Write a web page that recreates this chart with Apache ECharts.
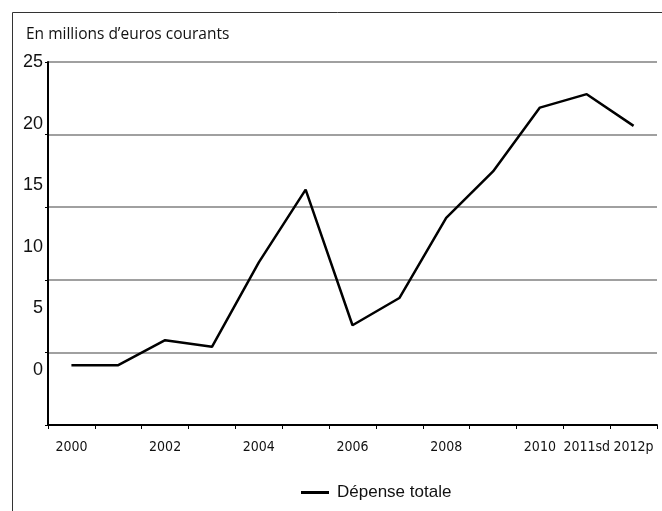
<!DOCTYPE html>
<html>
<head>
<meta charset="utf-8">
<script src="https://cdn.jsdelivr.net/npm/echarts@6/dist/echarts.min.js"></script>
<style>
html,body{margin:0;padding:0;background:#fff;}
#chart{width:662px;height:511px;}
</style>
</head>
<body>
<div id="chart"></div>
<script>
var categories = ['2000','2001','2002','2003','2004','2005','2006','2007','2008','2009','2010','2011sd','2012p'];
var shownLabelIndexes = [0,2,4,6,8,10,11,12];
var depenseTotale = [0.4, 0.4, 2.43, 1.89, 8.74, 14.64, 3.64, 5.85, 12.35, 16.12, 21.3, 22.39, 19.82];
var yTickLabels = [0, 5, 10, 15, 20, 25];
var gridLevels = {min: 0, max: 25, interval: 5};
var labelScale = {min: -4.45, max: 25};

var chart = echarts.init(document.getElementById('chart'), null, {renderer: 'canvas'});
chart.setOption({
  animation: false,
  backgroundColor: '#ffffff',
  graphic: [{
    type: 'rect',
    shape: {x: 12.5, y: 12.5, width: 700, height: 600},
    style: {fill: 'none', stroke: '#333333', lineWidth: 1},
    silent: true
  }],
  title: {
    text: 'En millions d\u2019euros courants',
    left: 21, top: 22,
    textStyle: {fontFamily: 'Open Sans', fontSize: 15.5, fontWeight: 'normal', color: '#111111'}
  },
  legend: {
    data: ['Dépense totale'],
    left: 296, top: 479,
    icon: 'rect', itemWidth: 28, itemHeight: 3, itemGap: 5,
    textStyle: {fontFamily: 'Liberation Sans', fontSize: 17, color: '#111111', padding: [0,0,0,3]}
  },
  grid: {left: 48, right: 5, top: 62, bottom: 86, outerBoundsMode: 'none'},
  xAxis: [{
    type: 'category',
    data: categories,
    boundaryGap: true,
    axisLine: {lineStyle: {color: '#000000', width: 2}},
    axisTick: {show: true, length: 4, alignWithLabel: false, interval: 0, lineStyle: {color: '#000000', width: 1}},
    axisLabel: {
      interval: function (index) { return shownLabelIndexes.indexOf(index) >= 0; },
      fontFamily: "'DejaVu Sans Condensed', 'Liberation Sans', sans-serif", fontSize: 14, color: '#111111', margin: 15
    },
    splitLine: {show: false}
  }],
  yAxis: [{
    type: 'value',
    min: gridLevels.min, max: gridLevels.max, interval: gridLevels.interval,
    position: 'left',
    axisLine: {show: true, lineStyle: {color: '#000000', width: 2}},
    axisTick: {show: true, length: 3, lineStyle: {color: '#000000', width: 1}},
    axisLabel: {show: false},
    splitLine: {show: true, lineStyle: {color: '#808080', width: 1.5}}
  }, {
    type: 'value',
    min: labelScale.min, max: labelScale.max,
    position: 'left',
    axisLine: {show: false},
    axisTick: {show: false},
    splitLine: {show: false},
    axisLabel: {
      customValues: yTickLabels,
      fontFamily: 'Liberation Sans', fontSize: 18, color: '#111111', margin: 5
    }
  }],
  series: [{
    name: 'Dépense totale',
    type: 'line',
    yAxisIndex: 1,
    data: depenseTotale,
    symbol: 'none',
    lineStyle: {color: '#000000', width: 2.5},
    itemStyle: {color: '#000000'}
  }]
});
</script>
</body>
</html>
